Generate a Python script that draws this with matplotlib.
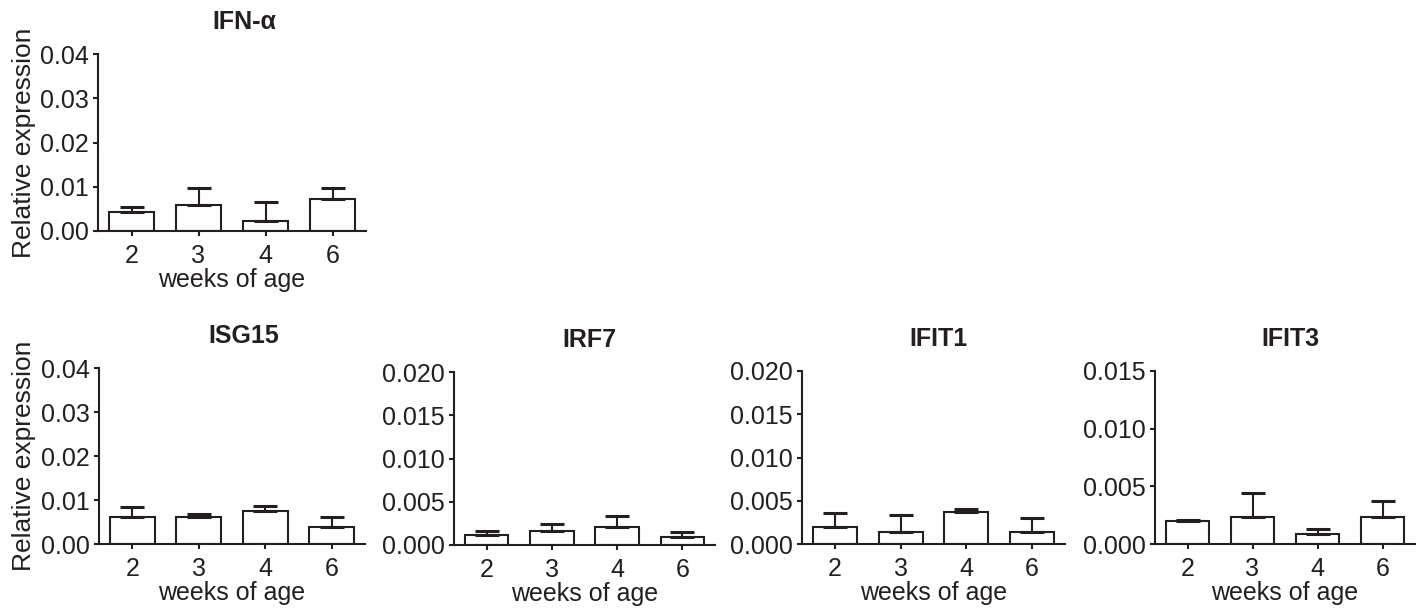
import matplotlib
matplotlib.use("Agg")
import matplotlib.pyplot as plt
import numpy as np

# weeks of age on the x axis
weeks = ["2", "3", "4", "6"]

# mean relative expression per week
ifna_mean = [0.0044, 0.0059, 0.0023, 0.0072]
isg15_mean = [0.0061, 0.0061, 0.0076, 0.0039]
irf7_mean = [0.0012, 0.0016, 0.0021, 0.0009]
ifit1_mean = [0.0020, 0.0014, 0.0037, 0.0014]
ifit3_mean = [0.0020, 0.0023, 0.0009, 0.0023]

# upper error (sem) per week
ifna_err = [0.0010, 0.0038, 0.0043, 0.0025]
isg15_err = [0.0022, 0.0008, 0.0011, 0.0023]
irf7_err = [0.0004, 0.0008, 0.0012, 0.0006]
ifit1_err = [0.0016, 0.0019, 0.0003, 0.0016]
ifit3_err = [0.0001, 0.0021, 0.0004, 0.0014]

titles = ["IFN-\u03b1", "ISG15", "IRF7", "IFIT1", "IFIT3"]
ymax = [0.04, 0.04, 0.02, 0.02, 0.015]
ystep = [0.01, 0.01, 0.005, 0.005, 0.005]
yfmt = ["%.2f", "%.2f", "%.3f", "%.3f", "%.3f"]

INK = "#231f20"
W, H = 1427, 615

plt.rcParams["font.family"] = ["Liberation Sans", "DejaVu Sans"]
plt.rcParams["font.size"] = 18
plt.rcParams["text.color"] = INK
plt.rcParams["axes.labelcolor"] = INK
plt.rcParams["xtick.color"] = INK
plt.rcParams["ytick.color"] = INK


# axes box in pixels: left, top, right, bottom
def pixBox(l, t, r, b):
    return [l / W, 1 - b / H, (r - l) / W, (b - t) / H]


def drawPanel(fig, box, title, titleX, means, errs, top, step, fmt, ylabelX):
    ax = fig.add_axes(box)
    x = np.arange(len(weeks))
    ax.bar(x, means, 0.67, color="white", edgecolor=INK, linewidth=1.5, zorder=2)
    ax.errorbar(x, means, yerr=[np.zeros(len(means)), errs], fmt="none",
                ecolor=INK, elinewidth=1.5, capsize=8.3, capthick=2.2, zorder=3)

    ax.set_xlim(-0.5, 3.5)
    ax.set_ylim(0, top)
    ax.set_xticks(x)
    ax.set_xticklabels(weeks)
    ax.set_yticks(np.arange(0, top + step / 2, step))
    ax.yaxis.set_major_formatter(matplotlib.ticker.FormatStrFormatter(fmt))

    for side in ["top", "right"]:
        ax.spines[side].set_visible(False)
    for side in ["left", "bottom"]:
        ax.spines[side].set_linewidth(1.5)
        ax.spines[side].set_color(INK)
    ax.tick_params(axis="both", length=3.5, width=1.5)
    ax.tick_params(axis="x", pad=6)
    ax.tick_params(axis="y", pad=3)

    ax.set_title(title, fontweight="bold", fontsize=18, pad=18, x=titleX)
    ax.set_xlabel("weeks of age", labelpad=0)
    if ylabelX is not None:
        ax.set_ylabel("Relative expression", fontsize=19)
        ax.yaxis.set_label_coords(ylabelX, 0.5)
    return ax


def main():
    fig = plt.figure(figsize=(W / 100, H / 100), dpi=100)

    drawPanel(fig, pixBox(98, 54, 366, 231), titles[0], 0.545,
              ifna_mean, ifna_err, ymax[0], ystep[0], yfmt[0], -0.232)
    drawPanel(fig, pixBox(99, 368, 365, 544), titles[1], 0.545,
              isg15_mean, isg15_err, ymax[1], ystep[1], yfmt[1], -0.237)
    drawPanel(fig, pixBox(454, 372, 715, 545), titles[2], 0.52,
              irf7_mean, irf7_err, ymax[2], ystep[2], yfmt[2], None)
    drawPanel(fig, pixBox(802, 371, 1065, 544), titles[3], 0.52,
              ifit1_mean, ifit1_err, ymax[3], ystep[3], yfmt[3], None)
    drawPanel(fig, pixBox(1155, 371, 1415, 544), titles[4], 0.52,
              ifit3_mean, ifit3_err, ymax[4], ystep[4], yfmt[4], None)

    fig.savefig("out.png", dpi=100)


if __name__ == "__main__":
    main()
